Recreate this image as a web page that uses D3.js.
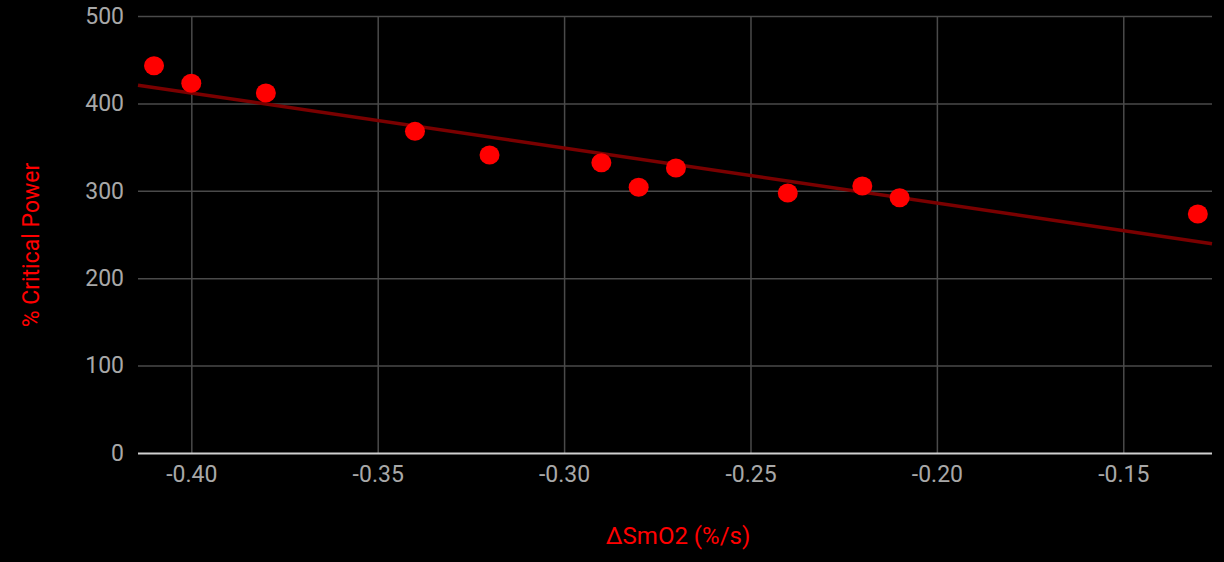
<!DOCTYPE html>
<html><head><meta charset="utf-8">
<script src="https://cdn.jsdelivr.net/npm/d3@7"></script>
<style>html,body{margin:0;padding:0;background:#000;}svg{display:block;}</style>
</head><body>
<svg id="c" width="1224" height="562"></svg>
<script>
const deltaSmO2 = [-0.41, -0.40, -0.38, -0.34, -0.32, -0.29, -0.28, -0.27, -0.24, -0.22, -0.21, -0.13];
const criticalPower = [443, 423, 412, 368, 341, 332, 304, 326, 297.5, 305.5, 292, 273.5];
const xTicks = [-0.40, -0.35, -0.30, -0.25, -0.20, -0.15];
const yTicks = [0, 100, 200, 300, 400, 500];
const xTitle = "ΔSmO2 (%/s)";
const yTitle = "% Critical Power";

const svg = d3.select("#c");
const L = 138, R = 1212, T = 16, B = 453;
const x = d3.scaleLinear().domain([-0.4143, -0.1262]).range([L, R]);
const y = d3.scaleLinear().domain([0, 500]).range([B, T]);
const font = "Roboto, 'Noto Sans', sans-serif";
const fmt = d => d3.format(".2f")(d).replace("\u2212", "-");

// grid
const gx = svg.append("g").attr("transform", `translate(0,${B})`)
  .call(d3.axisBottom(x).tickValues(xTicks).tickSize(-(B - T)).tickPadding(13).tickFormat(fmt));
gx.select(".domain").remove();
gx.selectAll(".tick line").attr("stroke", "#4a4a4a").attr("stroke-width", 1.5);
gx.selectAll(".tick text").attr("fill", "#a8a8a8").attr("font-size", 23).attr("font-family", font);

const gy = svg.append("g").attr("transform", `translate(${L},0)`)
  .call(d3.axisLeft(y).tickValues(yTicks).tickSize(-(R - L)).tickPadding(14));
gy.select(".domain").remove();
gy.selectAll(".tick line").attr("stroke", d => d === 0 ? "#d0d0d0" : "#4a4a4a").attr("stroke-width", d => d === 0 ? 2 : 1.5);
gy.selectAll(".tick text").attr("fill", "#a8a8a8").attr("font-size", 23).attr("font-family", font);

// regression
const n = deltaSmO2.length;
const mx = d3.mean(deltaSmO2), my = d3.mean(criticalPower);
let sxy = 0, sxx = 0;
for (let i = 0; i < n; i++) { sxy += (deltaSmO2[i] - mx) * (criticalPower[i] - my); sxx += (deltaSmO2[i] - mx) ** 2; }
const slope = sxy / sxx, icpt = my - slope * mx;
const xd = x.domain();
svg.append("line")
  .attr("x1", x(xd[0])).attr("y1", y(icpt + slope * xd[0]))
  .attr("x2", x(xd[1])).attr("y2", y(icpt + slope * xd[1]))
  .attr("stroke", "#7a0000").attr("stroke-width", 3.5);

svg.append("g").selectAll("ellipse").data(deltaSmO2).join("ellipse")
  .attr("cx", d => x(d)).attr("cy", (d, i) => y(criticalPower[i])).attr("rx", 10).attr("ry", 9.5)
  .attr("fill", "#ff0000");

svg.append("text").attr("x", 678).attr("y", 544).attr("text-anchor", "middle")
  .attr("fill", "#ff0000").attr("font-size", 24).attr("font-family", font).text(xTitle);
svg.append("text").attr("transform", `translate(39,${245}) rotate(-90)`).attr("text-anchor", "middle")
  .attr("fill", "#ff0000").attr("font-size", 23).attr("font-family", font).text(yTitle);
</script>
</body></html>
